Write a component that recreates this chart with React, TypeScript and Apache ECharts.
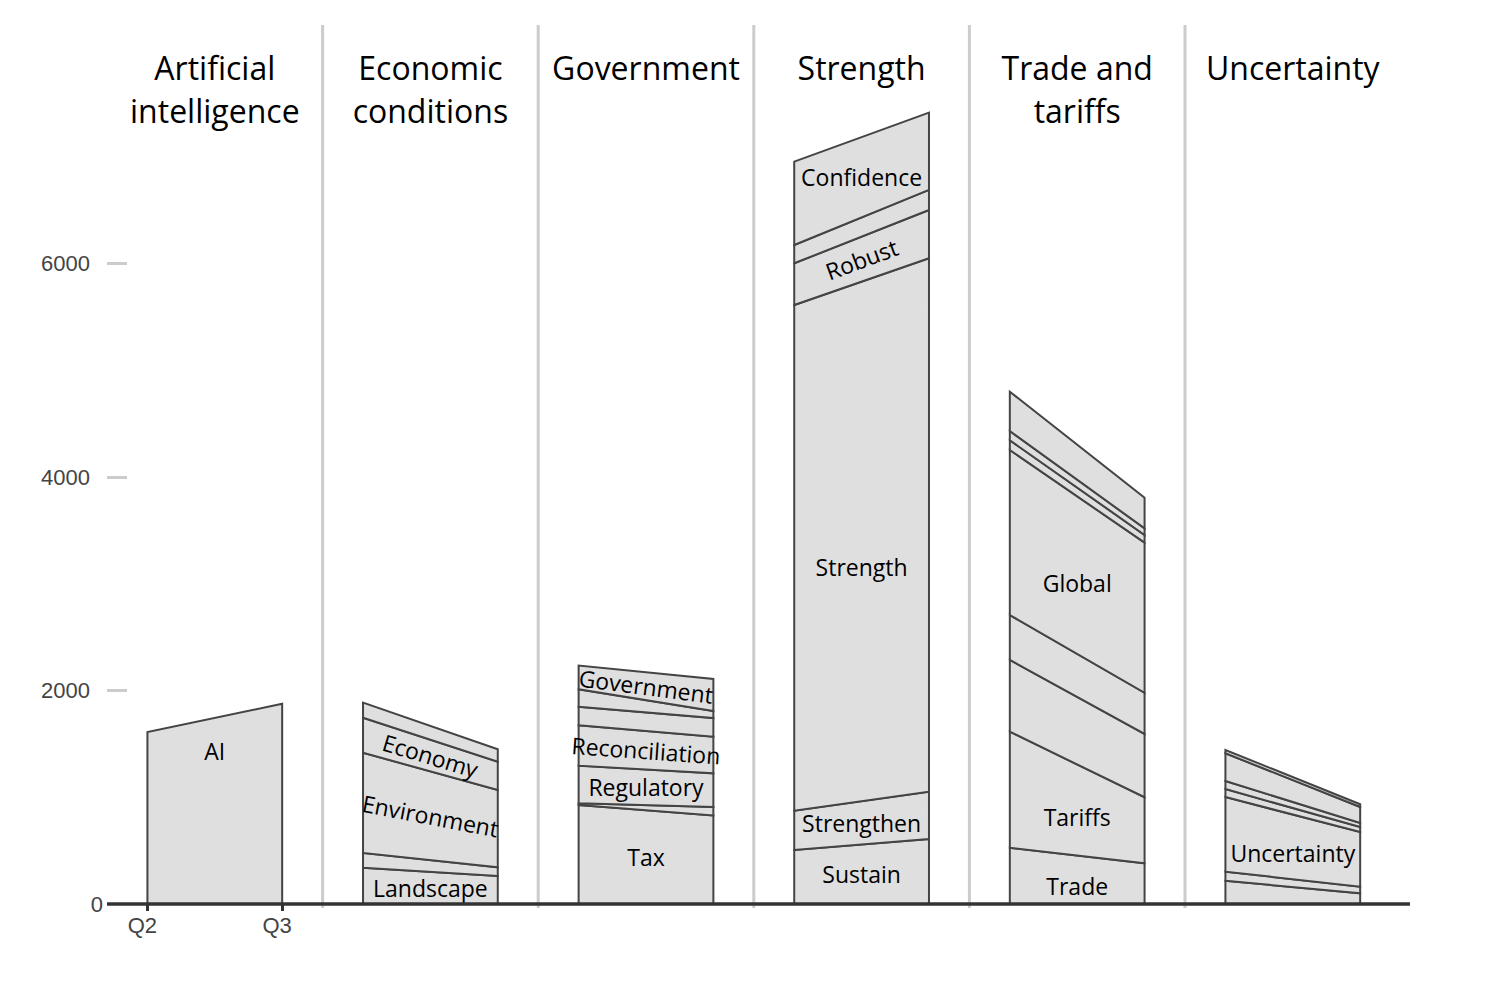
import React, { useEffect, useRef } from "react";
import * as echarts from "echarts";

// ---------- DATA ----------
const PERIODS = ["Q2", "Q3"];
const Y_TICKS = [0, 2000, 4000, 6000];
const PANEL_TITLES = [
  "Artificial\nintelligence",
  "Economic\nconditions",
  "Government",
  "Strength",
  "Trade and\ntariffs",
  "Uncertainty",
];

// layers listed bottom -> top; null = unlabeled thin layer
const AI_NAMES = ["AI"];
const AI_Q2 = [1610];
const AI_Q3 = [1875];

const ECON_NAMES = ["Landscape", null, "Environment", "Economy", null];
const ECON_Q2 = [340, 138, 939, 328, 141];
const ECON_Q3 = [262, 82, 724, 265, 116];

const GOV_NAMES = ["Tax", null, "Regulatory", "Reconciliation", null, null, "Government"];
const GOV_Q2 = [927, 16, 353, 378, 174, 163, 223];
const GOV_Q3 = [829, 80, 315, 343, 175, 66, 300];

const STR_NAMES = ["Sustain", "Strengthen", "Strength", "Robust", null, "Confidence"];
const STR_Q2 = [506, 368, 4737, 391, 171, 781];
const STR_Q3 = [609, 443, 4997, 452, 188, 724];

const TRADE_NAMES = ["Trade", "Tariffs", null, null, "Global", null, null, null];
const TRADE_Q2 = [527, 1087, 672, 421, 1546, 91, 87, 368];
const TRADE_Q3 = [381, 619, 593, 386, 1406, 72, 62, 287];

const UNC_NAMES = [null, null, "Uncertainty", null, null, null, null];
const UNC_Q2 = [218, 85, 699, 75, 75, 260, 31];
const UNC_Q3 = [100, 62, 512, 47, 38, 150, 25];

// labels that follow the slope of their band
const ANGLED_LABELS = ["Economy", "Environment", "Government", "Reconciliation", "Robust"];

const PANELS = [
  { names: AI_NAMES, q2: AI_Q2, q3: AI_Q3 },
  { names: ECON_NAMES, q2: ECON_Q2, q3: ECON_Q3 },
  { names: GOV_NAMES, q2: GOV_Q2, q3: GOV_Q3 },
  { names: STR_NAMES, q2: STR_Q2, q3: STR_Q3 },
  { names: TRADE_NAMES, q2: TRADE_Q2, q3: TRADE_Q3 },
  { names: UNC_NAMES, q2: UNC_Q2, q3: UNC_Q3 },
];

// ---------- LAYOUT / STYLE ----------
const W = 1490;
const H = 986;
const PLOT_LEFT = 107;
const PANEL_W = 215.6;
const GRID_TOP = 50;
const BASE_Y = 904;
const Y_MAX = 8000;
const SANS = "'Open Sans', 'Noto Sans', sans-serif";
const AXIS_FONT = "'Liberation Sans', Arial, Helvetica, sans-serif";
// where a label sits inside its band (0 = bottom edge, 1 = top edge); default middle
const LABEL_LIFT: Record<string, number> = {
  AI: 0.82,
  Strength: 0.45,
  Global: 0.45,
  Tariffs: 0.42,
  Trade: 0.38,
  Uncertainty: 0.41,
};

function buildOption() {
  const grids: any[] = [];
  const xAxes: any[] = [];
  const yAxes: any[] = [];
  const series: any[] = [];
  const graphics: any[] = [];

  PANELS.forEach((panel, i) => {
    const left = PLOT_LEFT + PANEL_W * i;
    grids.push({ left, top: GRID_TOP, width: PANEL_W, height: BASE_Y - GRID_TOP });
    const first = i === 0;
    xAxes.push({
      gridIndex: i,
      type: "value",
      min: -0.3,
      max: 1.3,
      axisLine: { show: false, onZero: false },
      splitLine: { show: false },
      axisTick: {
        show: first,
        customValues: [0, 1],
        length: 7,
        lineStyle: { color: "#333", width: 3 },
      },
      axisLabel: {
        show: first,
        customValues: [0, 1],
        margin: 10,
        formatter: (v: number) => "{q|" + PERIODS[Math.round(v)] + "}",
        rich: {
          q: { fontFamily: AXIS_FONT, fontSize: 22, color: "#444", padding: [0, 10, 0, 0] },
        },
      },
    });
    yAxes.push({
      gridIndex: i,
      type: "value",
      min: 0,
      max: Y_MAX,
      show: first,
      axisLine: { show: false, onZero: false },
      splitLine: { show: false },
      axisTick: {
        show: first,
        inside: true,
        length: 20,
        customValues: Y_TICKS.filter((t) => t > 0),
        lineStyle: { color: "#ccc", width: 3 },
      },
      axisLabel: {
        show: first,
        customValues: Y_TICKS,
        margin: 4,
        formatter: (v: number) => (v === 0 ? "{z|0}" : "{n|" + v + "}"),
        rich: {
          z: { fontFamily: AXIS_FONT, fontSize: 22, color: "#444" },
          n: { fontFamily: AXIS_FONT, fontSize: 22, color: "#444", padding: [0, 13, 0, 0] },
        },
      },
    });

    // stacked bands
    const data: number[][] = [];
    let c2 = 0;
    let c3 = 0;
    panel.q2.forEach((v2, k) => {
      const v3 = panel.q3[k];
      data.push([0, c2, c2 + v2, c3, c3 + v3]);
      c2 += v2;
      c3 += v3;
    });

    series.push({
      type: "custom",
      xAxisIndex: i,
      yAxisIndex: i,
      encode: { x: 0, y: [1, 2, 3, 4] },
      data,
      renderItem: (params: any, api: any) => {
        const b0 = api.value(1);
        const t0 = api.value(2);
        const b1 = api.value(3);
        const t1 = api.value(4);
        const pB0 = api.coord([0, b0]);
        const pT0 = api.coord([0, t0]);
        const pT1 = api.coord([1, t1]);
        const pB1 = api.coord([1, b1]);
        const children: any[] = [
          {
            type: "polygon",
            shape: { points: [pB0, pT0, pT1, pB1] },
            style: { fill: "#dfdfdf", stroke: "#444", lineWidth: 2, lineJoin: "miter" },
          },
        ];
        const name = panel.names[params.dataIndex];
        if (name) {
          const f = LABEL_LIFT[name] !== undefined ? LABEL_LIFT[name] : 0.5;
          const lx = pB0[0];
          const ly = pB0[1] + (pT0[1] - pB0[1]) * f;
          const rx = pB1[0];
          const ry = pB1[1] + (pT1[1] - pB1[1]) * f;
          const cx = (lx + rx) / 2;
          const cy = (ly + ry) / 2;
          const angled = ANGLED_LABELS.indexOf(name) >= 0;
          children.push({
            type: "text",
            x: cx,
            y: cy,
            rotation: angled ? -Math.atan2(ry - ly, rx - lx) : 0,
            z2: 10,
            style: {
              text: name,
              fill: "#000",
              font: "23px " + SANS,
              align: "center",
              verticalAlign: "middle",
            },
          });
        }
        return { type: "group", children };
      },
    });

    // panel title
    graphics.push({
      type: "text",
      x: left + PANEL_W / 2,
      y: 46,
      z: 50,
      style: {
        text: PANEL_TITLES[i],
        fill: "#000",
        font: "32px " + SANS,
        lineHeight: 43,
        align: "center",
        verticalAlign: "top",
      },
    });

    // divider
    if (i > 0) {
      graphics.push({
        type: "line",
        z: 40,
        shape: { x1: left, y1: 25, x2: left, y2: BASE_Y + 4 },
        style: { stroke: "#cccccc", lineWidth: 3 },
      });
    }
  });

  // baseline
  graphics.push({
    type: "line",
    z: 100,
    shape: { x1: PLOT_LEFT, y1: BASE_Y, x2: 1410, y2: BASE_Y },
    style: { stroke: "#333", lineWidth: 3.5 },
  });

  return {
    animation: false,
    backgroundColor: "#fff",
    grid: grids,
    xAxis: xAxes,
    yAxis: yAxes,
    series,
    graphic: graphics,
  };
}

export default function App() {
  const ref = useRef<HTMLDivElement>(null);
  useEffect(() => {
    if (!ref.current) return;
    const chart = echarts.init(ref.current, undefined, { renderer: "svg", width: W, height: H });
    chart.setOption(buildOption() as any);
    return () => chart.dispose();
  }, []);
  return (
    <div
      ref={ref}
      style={{ position: "fixed", left: 0, top: 0, width: W, height: H, background: "#fff" }}
    />
  );
}
